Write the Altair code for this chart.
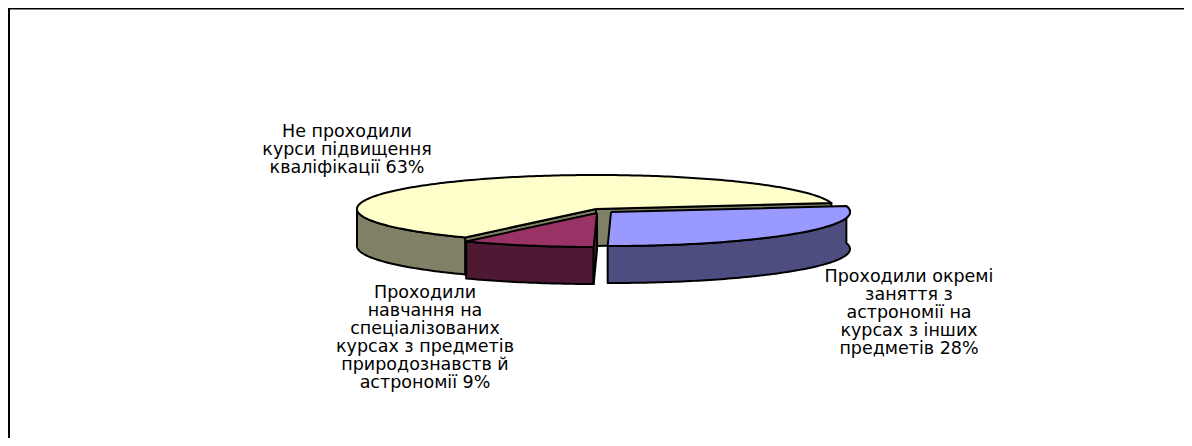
import numpy as np
import pandas as pd
import altair as alt

# Values
slice_names = ["blue", "purple", "cream"]
shares = [28, 9, 63]
top_colors = ["#9999FF", "#993366", "#FFFFCC"]
side_colors = ["#4D4D80", "#4D1933", "#808066"]
label_lines = [
    ["Не проходили", "курси підвищення", "кваліфікації 63%"],
    ["Проходили", "навчання на", "спеціалізованих", "курсах з предметів", "природознавств й", "астрономії 9%"],
    ["Проходили окремі", "заняття з", "астрономії на", "курсах з інших", "предметів 28%"],
]

# Layout of the tilted pie (pixels of the picture)
centers = {"blue": (611, 212), "purple": (597, 213), "cream": (596, 209)}
RX, RY, DEPTH = 239, 34, 37
START = -10.0
label_anchor = [(347, 137, 18), (425, 298, 18), (909, 282, 18)]
FONT = "DejaVu Sans"
FONT_SIZE = 17.5
RIGHT, BOTTOM = 1184, 438

angles = {}
a = START
for n, s in zip(slice_names, shares):
    angles[n] = (a, a + s * 3.6)
    a += s * 3.6


def rim(name, t0, t1, dz=0):
    cx, cy = centers[name]
    n = max(2, int(abs(t1 - t0)) + 1)
    ts = np.radians(np.linspace(t0, t1, n))
    return [(cx + RX * np.cos(t), cy + RY * np.sin(t) + dz) for t in ts]


def frame(points):
    return pd.DataFrame({"x": [p[0] for p in points], "y": [p[1] for p in points], "i": range(len(points))})


X = alt.X("x:Q", scale=alt.Scale(domain=[8, RIGHT], nice=False, zero=False), axis=None)
Y = alt.Y("y:Q", scale=alt.Scale(domain=[BOTTOM, 8], nice=False, zero=False), axis=None)


def poly(points, fill):
    return alt.Chart(frame(points)).mark_line(
        fill=fill, stroke="black", strokeWidth=2, strokeJoin="round", interpolate="linear"
    ).encode(x=X, y=Y, order="i:Q")


def wall(name, t0, t1, fill):
    r = rim(name, t0, t1)
    r2 = rim(name, t1, t0, DEPTH)
    return poly(r + r2 + r[:1], fill)


def cut(name, t, fill):
    c = centers[name]
    e = rim(name, t, t)[0]
    return poly([c, e, (e[0], e[1] + DEPTH), (c[0], c[1] + DEPTH), c], fill)


def top(name, t0, t1, fill):
    c = centers[name]
    return poly([c] + rim(name, t0, t1) + [c], fill)


col = dict(zip(slice_names, zip(top_colors, side_colors)))
layers = []

# cream slice (behind)
t0, t1 = angles["cream"]
layers += [cut("cream", t1 % 360, col["cream"][1]), cut("cream", t0, col["cream"][1])]
layers.append(wall("cream", t0, 180, col["cream"][1]))
layers.append(top("cream", t0, t1, col["cream"][0]))

# purple slice
t0, t1 = angles["purple"]
layers += [wall("purple", t0, t1, col["purple"][1]), cut("purple", t0, col["purple"][1]), top("purple", t0, t1, col["purple"][0])]

# blue slice
t0, t1 = angles["blue"]
layers += [wall("blue", t0, t1, col["blue"][1]), top("blue", t0, t1, col["blue"][0])]

# frame: top and left edges of the picture
frame_df = pd.DataFrame({"x": [8.5, 8.5, RIGHT], "y": [BOTTOM, 8, 8], "i": [0, 1, 2]})
layers.append(alt.Chart(frame_df).mark_line(stroke="black", strokeWidth=3).encode(x=X, y=Y, order="i:Q"))

# labels
rows = []
for lines, (ax, ay, step) in zip(label_lines, label_anchor):
    for k, line in enumerate(lines):
        rows.append({"x": ax, "y": ay + k * step, "t": line})
layers.append(
    alt.Chart(pd.DataFrame(rows)).mark_text(
        font=FONT, fontSize=FONT_SIZE, align="center", baseline="alphabetic", color="black"
    ).encode(x=X, y=Y, text="t:N")
)

chart = alt.layer(*layers).properties(
    width=RIGHT - 8, height=BOTTOM - 8, padding=0, autosize=alt.AutoSizeParams(type="none"),
    background="white",
).configure_view(stroke=None)

chart.save("out.html", embed_options={"renderer": "svg", "actions": False})
